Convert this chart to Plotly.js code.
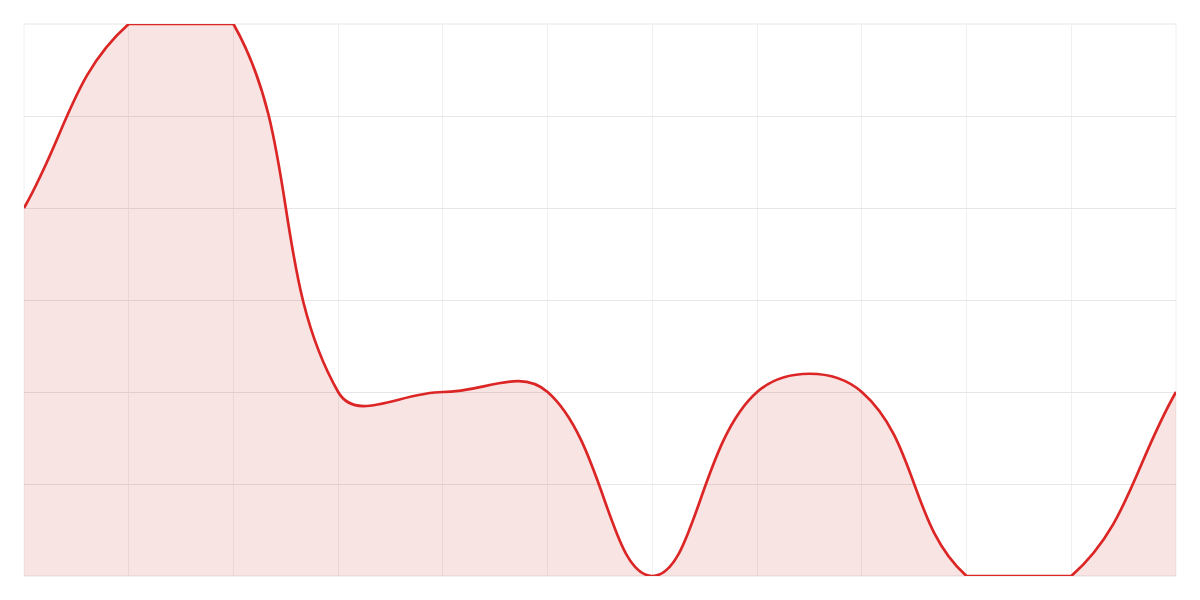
<!DOCTYPE html>
<html>
<head>
<meta charset="utf-8">
<script src="https://cdn.plot.ly/plotly-3.0.1.min.js"></script>
<style>
  html, body { margin: 0; padding: 0; background: #fff; }
  #plot { width: 1200px; height: 600px; }
</style>
</head>
<body>
<div id="plot"></div>
<script>
const xs = [0, 1, 2, 3, 4, 5, 6, 7, 8, 9, 10, 11];
const values = [4, 6, 6, 2, 2, 2, 0, 2, 2, 0, 0, 2];

const W = 1200, H = 600, M = 24;
const xRange = [0, 11], yRange = [0, 6];
const tension = 0.4;

// pixels per data unit, only used for the distance ratios of the spline
const sx = (W - 2 * M) / (xRange[1] - xRange[0]);
const sy = (H - 2 * M) / (yRange[1] - yRange[0]);

const clamp = (v, lo, hi) => Math.max(lo, Math.min(hi, v));

// tension spline with control points capped to the plot area
function controlPoints(px, py) {
  const n = px.length, out = [];
  for (let i = 0; i < n; i++) {
    const p = Math.max(i - 1, 0), q = Math.min(i + 1, n - 1);
    const d01 = Math.hypot((px[i] - px[p]) * sx, (py[i] - py[p]) * sy);
    const d12 = Math.hypot((px[q] - px[i]) * sx, (py[q] - py[i]) * sy);
    const s = d01 + d12 || 1;
    const fa = tension * d01 / s, fb = tension * d12 / s;
    const dx = px[q] - px[p], dy = py[q] - py[p];
    out.push({
      px: clamp(px[i] - fa * dx, xRange[0], xRange[1]),
      py: clamp(py[i] - fa * dy, yRange[0], yRange[1]),
      nx: clamp(px[i] + fb * dx, xRange[0], xRange[1]),
      ny: clamp(py[i] + fb * dy, yRange[0], yRange[1])
    });
  }
  return out;
}

function curvePath(px, py) {
  const cp = controlPoints(px, py);
  let d = `M${px[0]},${py[0]}`;
  for (let i = 1; i < px.length; i++) {
    d += ` C${cp[i - 1].nx},${cp[i - 1].ny} ${cp[i].px},${cp[i].py} ${px[i]},${py[i]}`;
  }
  return d;
}

const linePath = curvePath(xs, values);
const areaPath = linePath + ` L${xs[xs.length - 1]},0 L${xs[0]},0 Z`;

const data = [{
  type: 'scatter', mode: 'lines',
  x: xs, y: values,
  line: { width: 0 },
  hoverinfo: 'skip'
}];

const hGrid = '#e6e6e6', vGrid = '#f0f0f0';
const edge = (x0, y0, x1, y1, color) => ({
  type: 'line', xref: 'paper', yref: 'paper', layer: 'below',
  x0, y0, x1, y1, line: { color, width: 1 }
});

const layout = {
  width: W, height: H,
  paper_bgcolor: '#fff', plot_bgcolor: '#fff',
  margin: { l: M, r: M, t: M, b: M },
  showlegend: false,
  xaxis: {
    range: xRange, showgrid: true, gridcolor: vGrid, gridwidth: 1,
    dtick: 1, showticklabels: false, zeroline: false, showline: false, ticks: ''
  },
  yaxis: {
    range: yRange, showgrid: true, gridcolor: hGrid, gridwidth: 1,
    dtick: 1, showticklabels: false, zeroline: false, showline: false, ticks: ''
  },
  shapes: [
    edge(0, 1, 1, 1, hGrid),
    edge(0, 0, 1, 0, hGrid),
    edge(0, 0, 0, 1, vGrid),
    edge(1, 0, 1, 1, vGrid),
    {
      type: 'path', xref: 'x', yref: 'y', layer: 'above',
      path: areaPath, fillcolor: 'rgba(205,35,35,0.12)', line: { width: 0 }
    },
    {
      type: 'path', xref: 'x', yref: 'y', layer: 'above',
      path: linePath, line: { color: '#dc2626', width: 2.7 }
    }
  ]
};

Plotly.newPlot('plot', data, layout, { displayModeBar: false, staticPlot: true });
</script>
</body>
</html>
